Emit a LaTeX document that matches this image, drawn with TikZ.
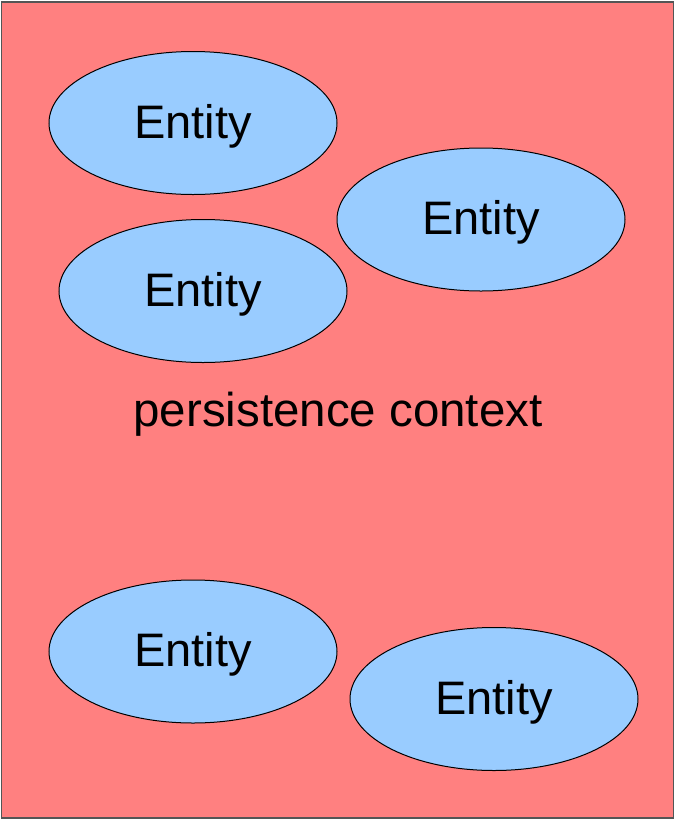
\documentclass[tikz,border=0pt]{standalone}
\usepackage{fontspec}
\setmainfont{Liberation Sans}
\usetikzlibrary{shapes.geometric}
\definecolor{ctxred}{HTML}{FF8080}
\definecolor{entblue}{HTML}{99CCFF}
\definecolor{ctxborder}{HTML}{555555}
\begin{document}
\begin{tikzpicture}[x=1pt,y=1pt,
  entity/.style={ellipse,draw=black,line width=1pt,fill=entblue,
    minimum width=288pt,minimum height=143pt,inner sep=0pt,
    text height=34pt,text depth=4pt,
    font=\fontsize{47}{50}\selectfont},
  label/.style={font=\fontsize{47.5}{50}\selectfont,inner sep=0pt}]
\useasboundingbox (0,0) rectangle (675,-820);
% persistence context
\draw[draw=ctxborder,line width=1.2pt,fill=ctxred] (1.5,-2) rectangle (673.5,-818);
\node[label] (ctx) at (338,-414) {persistence context};
% entities
\node[entity] (e1) at (193,-123) {Entity};
\node[entity] (e2) at (481,-219.5) {Entity};
\node[entity] (e3) at (203,-291) {Entity};
\node[entity] (e4) at (193,-651.5) {Entity};
\node[entity] (e5) at (494,-699) {Entity};
\end{tikzpicture}
\end{document}
